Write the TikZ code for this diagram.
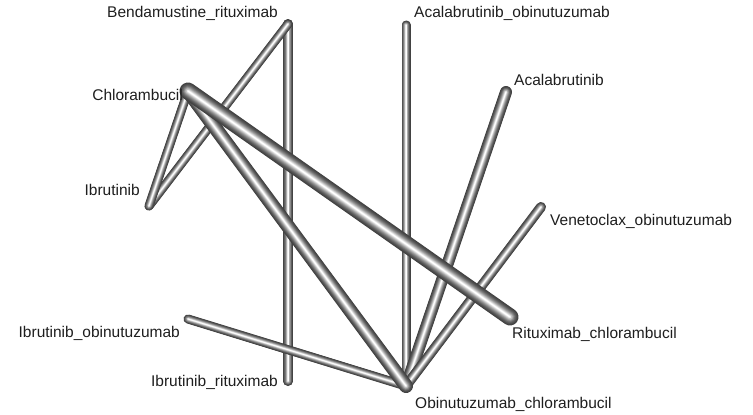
\documentclass[tikz,border=0pt]{standalone}
\usepackage{fontspec}
\setmainfont{Liberation Sans}
\definecolor{tubedark}{RGB}{60,60,60}
\definecolor{labelgray}{RGB}{30,30,30}

% a shaded tube between two named points: from, to, width
\newcommand{\tube}[3]{%
  \foreach \k in {0,...,13}{%
    \pgfmathsetmacro\tw{#3*(1-\k/14)}%
    \pgfmathtruncatemacro\tc{min(100,100*(\k/13)^1.6+3)}%
    \draw[line width=\tw pt, line cap=round, color=white!\tc!tubedark] (#1) -- (#2);
  }%
}

\begin{document}
\begin{tikzpicture}[x=1pt,y=-1pt,
  lbl/.style={inner sep=0pt, text=labelgray, font=\fontsize{15.5}{18}\selectfont}]
\useasboundingbox (0,0) rectangle (753,415);

% treatment positions
\coordinate (benr) at (288,24);
\coordinate (acob) at (406,25);
\coordinate (acal) at (506,92);
\coordinate (chlo) at (188,91);
\coordinate (ibru) at (149,206);
\coordinate (veob) at (541,207);
\coordinate (ibob) at (188,319);
\coordinate (rich) at (510,317);
\coordinate (ibri) at (288,381);
\coordinate (obch) at (406,386);

% comparisons
\tube{benr}{ibri}{10}
\tube{benr}{ibru}{9}
\tube{chlo}{ibru}{9}
\tube{acob}{obch}{9}
\tube{acal}{obch}{12}
\tube{veob}{obch}{10}
\tube{ibob}{obch}{9}
\tube{chlo}{obch}{14}
\tube{chlo}{rich}{17}

% labels
\node[lbl, anchor=east] (lbenr) at (278,13) {Bendamustine\_rituximab};
\node[lbl, anchor=west] (lacob) at (414,13) {Acalabrutinib\_obinutuzumab};
\node[lbl, anchor=west] (lacal) at (514,80) {Acalabrutinib};
\node[lbl, anchor=east] (lchlo) at (183,95) {Chlorambucil};
\node[lbl, anchor=east] (libru) at (140,190) {Ibrutinib};
\node[lbl, anchor=west] (lveob) at (550,221) {Venetoclax\_obinutuzumab};
\node[lbl, anchor=east] (libob) at (180,333) {Ibrutinib\_obinutuzumab};
\node[lbl, anchor=west] (lrich) at (512,334) {Rituximab\_chlorambucil};
\node[lbl, anchor=east] (libri) at (278,382) {Ibrutinib\_rituximab};
\node[lbl, anchor=west] (lobch) at (415,404) {Obinutuzumab\_chlorambucil};
\end{tikzpicture}
\end{document}
